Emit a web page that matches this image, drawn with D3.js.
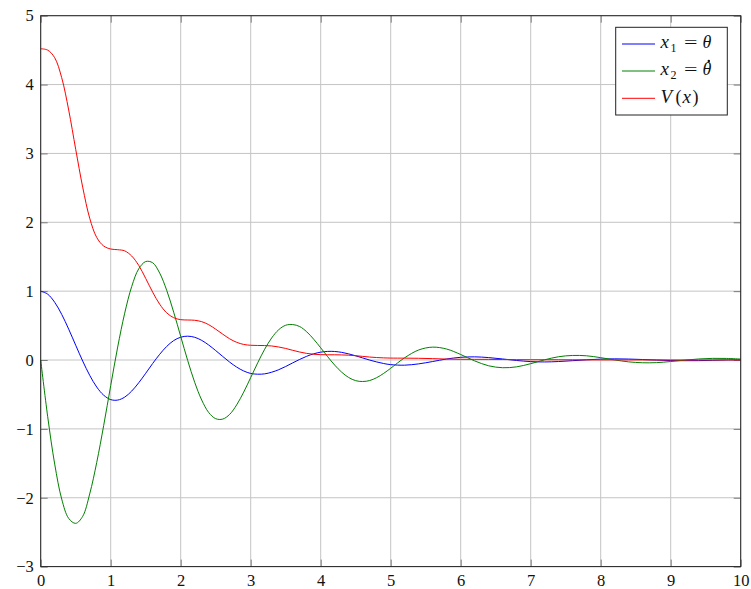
<!DOCTYPE html>
<html>
<head>
<meta charset="utf-8">
<script src="https://cdn.jsdelivr.net/npm/d3@7"></script>
<style>
  body { margin: 0; background: #fff; }
  svg { display: block; }
</style>
</head>
<body>
<svg id="chart"></svg>
<script>
// time samples (s)
const tValues = [
  0, 0.1, 0.2, 0.3, 0.4, 0.5, 0.6, 0.7, 0.8, 0.9,
  1.0, 1.1, 1.2, 1.3, 1.4, 1.5, 1.6, 1.7, 1.8, 1.9,
  2.0, 2.1, 2.2, 2.3, 2.4, 2.5, 2.6, 2.7, 2.8, 2.9,
  3.0, 3.1, 3.2, 3.3, 3.4, 3.5, 3.6, 3.7, 3.8, 3.9,
  4.0, 4.1, 4.2, 4.3, 4.4, 4.5, 4.6, 4.7, 4.8, 4.9,
  5.0, 5.2, 5.4, 5.6, 5.8, 6.0, 6.2, 6.4, 6.6, 6.8,
  7.0, 7.2, 7.4, 7.6, 7.8, 8.0, 8.2, 8.4, 8.6, 8.8,
  9.0, 9.2, 9.4, 9.6, 9.8, 10.0
]

// x1 = theta
const theta = [
  1, 0.956, 0.838, 0.663, 0.448, 0.215, -0.015, -0.222, -0.392, -0.511,
  -0.575, -0.582, -0.539, -0.451, -0.331, -0.193, -0.050, 0.083, 0.197, 0.282,
  0.331, 0.346, 0.330, 0.285, 0.218, 0.137, 0.052, -0.031, -0.103, -0.159,
  -0.195, -0.206, -0.201, -0.177, -0.141, -0.094, -0.042, 0.009, 0.054, 0.090,
  0.114, 0.125, 0.124, 0.111, 0.089, 0.061, 0.030, -0.001, -0.028, -0.051,
  -0.067, -0.075, -0.056, -0.022, 0.015, 0.039, 0.046, 0.035, 0.015, -0.007,
  -0.023, -0.028, -0.022, -0.010, 0.003, 0.013, 0.017, 0.014, 0.007, -0.001,
  -0.008, -0.010, -0.009, -0.004, 0.001, 0.004
]

// x2 = theta dot
const thetaDot = [
  0, -0.823, -1.511, -2.019, -2.300, -2.372, -2.270, -1.945, -1.490, -0.950,
  -0.372, 0.189, 0.680, 1.067, 1.323, 1.430, 1.412, 1.262, 1.012, 0.694,
  0.343, -0.007, -0.324, -0.581, -0.762, -0.852, -0.858, -0.789, -0.651, -0.466,
  -0.255, -0.041, 0.157, 0.321, 0.440, 0.505, 0.515, 0.486, 0.410, 0.302,
  0.177, 0.048, -0.074, -0.177, -0.254, -0.300, -0.312, -0.298, -0.256, -0.194,
  -0.120, 0.033, 0.146, 0.187, 0.159, 0.080, -0.013, -0.084, -0.112, -0.099,
  -0.053, 0.003, 0.048, 0.066, 0.061, 0.034, 0.001, -0.027, -0.040, -0.038,
  -0.022, -0.002, 0.015, 0.024, 0.023, 0.014
]

// V(x)
const lyap = [
  4.52, 4.50, 4.39, 4.10, 3.63, 3.06, 2.51, 2.06, 1.78, 1.655,
  1.612, 1.602, 1.585, 1.51, 1.375, 1.185, 0.985, 0.81, 0.685, 0.614,
  0.586, 0.581, 0.577, 0.557, 0.513, 0.448, 0.376, 0.308, 0.257, 0.226,
  0.214, 0.211, 0.210, 0.204, 0.189, 0.168, 0.141, 0.116, 0.096, 0.084,
  0.078, 0.076, 0.076, 0.074, 0.070, 0.062, 0.053, 0.043, 0.036, 0.031,
  0.028, 0.027, 0.025, 0.020, 0.0133, 0.0104, 0.0099, 0.0094, 0.0073, 0.005,
  0.0038, 0.0036, 0.0034, 0.0027, 0.0019, 0.0014, 0.0013, 0.0012, 0.001, 0.0007,
  0.0005, 0.0005, 0.0005, 0.0004, 0.0003, 0.0002
]

const xTicks = [0, 1, 2, 3, 4, 5, 6, 7, 8, 9, 10]
const yTicks = [-3, -2, -1, 0, 1, 2, 3, 4, 5]

const series = [
  { label: 'x1', values: theta, color: '#0000ff' },
  { label: 'x2', values: thetaDot, color: '#008000' },
  { label: 'V', values: lyap, color: '#ff0000' },
]

const W = 751, H = 589
const margin = { top: 15.7, right: 10.3, bottom: 22.4, left: 40.7 }
const FONT = 'Liberation Serif'

const svg = d3.select('#chart')
    .attr('width', W)
    .attr('height', H)

const x = d3.scaleLinear()
    .domain([0, 10])
    .range([margin.left, W - margin.right])

const y = d3.scaleLinear()
    .domain([-3, 5])
    .range([H - margin.bottom, margin.top])

const fmt = d => d < 0 ? '\u2212' + Math.abs(d) : String(d)

// grid
const grid = svg.append('g').attr('stroke', '#c4c4c4').attr('stroke-width', 1)
grid.selectAll('vl')
    .data(xTicks)
    .join('line')
    .attr('x1', d => x(d)).attr('x2', d => x(d))
    .attr('y1', y(-3)).attr('y2', y(5))
grid.selectAll('hl')
    .data(yTicks)
    .join('line')
    .attr('y1', d => y(d)).attr('y2', d => y(d))
    .attr('x1', x(0)).attr('x2', x(10))

// inward tick marks on all four sides
const tickLen = 7
const ticks = [
    d3.axisBottom(x).tickValues(xTicks),
    d3.axisTop(x).tickValues(xTicks),
    d3.axisLeft(y).tickValues(yTicks),
    d3.axisRight(y).tickValues(yTicks),
]
const tickPos = [
    `translate(0,${y(-3)})`, `translate(0,${y(5)})`,
    `translate(${x(0)},0)`, `translate(${x(10)},0)`
]
ticks.forEach((ax, i) => {
    svg.append('g')
        .attr('transform', tickPos[i])
        .call(ax.tickSize(-tickLen).tickFormat(''))
        .call(g => g.select('.domain').remove())
        .call(g => g.selectAll('line').attr('stroke', '#7a7a7a'))
})

// tick labels
svg.append('g')
    .attr('transform', `translate(0,${y(-3)})`)
    .call(d3.axisBottom(x).tickValues(xTicks).tickSize(0).tickPadding(8).tickFormat(fmt))
    .call(g => g.select('.domain').remove())
    .call(g => g.selectAll('text').style('font-size', '16.5px').style('font-family', FONT).attr('fill', '#111'))

svg.append('g')
    .attr('transform', `translate(${x(0)},0)`)
    .call(d3.axisLeft(y).tickValues(yTicks).tickSize(0).tickPadding(7).tickFormat(fmt))
    .call(g => g.select('.domain').remove())
    .call(g => g.selectAll('text').style('font-size', '16.5px').style('font-family', FONT).attr('fill', '#111'))

// curves
const line = d3.line()
    .x((d, i) => x(tValues[i]))
    .y(d => y(d))
    .curve(d3.curveCatmullRom.alpha(0.5))

svg.append('g')
    .selectAll('path')
    .data(series)
    .join('path')
    .attr('fill', 'none')
    .attr('stroke', d => d.color)
    .attr('stroke-width', 1)
    .attr('d', d => line(d.values))

// frame
svg.append('rect')
    .attr('x', x(0)).attr('y', y(5))
    .attr('width', x(10) - x(0)).attr('height', y(-3) - y(5))
    .attr('fill', 'none')
    .attr('stroke', '#222')
    .attr('stroke-width', 1)

// legend
const lg = svg.append('g')
lg.append('rect')
    .attr('x', 615.7).attr('y', 27.3)
    .attr('width', 111.6).attr('height', 87.7)
    .attr('fill', '#fff')
    .attr('stroke', '#222')
    .attr('stroke-width', 1)

const rowY = [44, 71, 98.3]
const tx = 660
series.forEach((s, i) => {
    lg.append('line')
        .attr('x1', 622).attr('x2', 655)
        .attr('y1', rowY[i]).attr('y2', rowY[i])
        .attr('stroke', s.color)
        .attr('stroke-width', 1)
    const base = rowY[i] + 4.4
    const t = lg.append('text')
        .attr('y', base)
        .attr('fill', '#111')
        .style('font-size', '17px')
        .style('font-family', FONT)
    if (s.label === 'V') {
        t.append('tspan').attr('x', tx + 0.5).style('font-style', 'italic').style('font-size', '19px').text('V')
        t.append('tspan').attr('x', tx + 15.5).style('font-size', '18px').text('(')
        t.append('tspan').attr('x', tx + 22.5).style('font-style', 'italic').style('font-size', '19px').text('x')
        t.append('tspan').attr('x', tx + 32.5).style('font-size', '18px').text(')')
    } else {
        t.append('tspan').attr('x', tx + 0.5).style('font-style', 'italic').style('font-size', '19px').text('x')
        t.append('tspan').attr('x', tx + 10.5).style('font-size', '12px').attr('dy', 4).text(s.label === 'x1' ? '1' : '2')
        t.append('tspan').attr('x', tx + 24).attr('dy', -4)
            .attr('textLength', 13.5).attr('lengthAdjust', 'spacingAndGlyphs').text('=')
        t.append('tspan').attr('x', tx + 42.5).style('font-style', 'italic').style('font-size', '18px').text('\u03b8')
        if (s.label === 'x2') {
            // dot over theta
            lg.append('circle')
                .attr('cx', 708.8)
                .attr('cy', 61)
                .attr('r', 1.25)
                .attr('fill', '#111')
        }
    }
})
</script>
</body>
</html>
